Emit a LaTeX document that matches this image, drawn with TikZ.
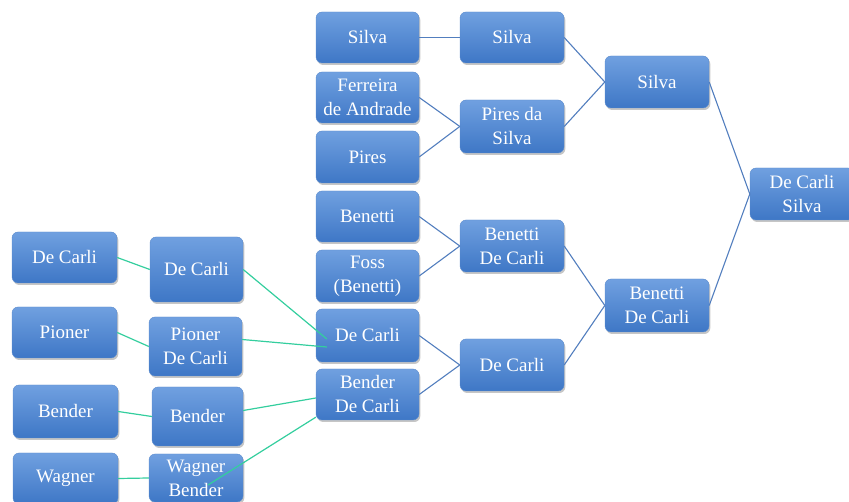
\documentclass[tikz,border=0pt]{standalone}
\usepackage{fontspec}
\setmainfont{Liberation Serif}
\usetikzlibrary{shadows}
\definecolor{boxtop}{RGB}{112,160,224}
\definecolor{boxbot}{RGB}{62,119,198}
\definecolor{boxedge}{RGB}{92,140,206}
\definecolor{linkblue}{RGB}{82,126,190}
\definecolor{linkgreen}{RGB}{52,206,158}
\begin{document}
\begin{tikzpicture}[x=1pt,y=-1pt,
  famb/.style={rectangle, rounded corners=6pt, top color=boxtop, bottom color=boxbot,
    draw=boxedge, line width=0.4pt, text=white, align=center,
    font=\fontsize{19}{24}\selectfont, inner sep=0pt,
    drop shadow={shadow xshift=1.3pt, shadow yshift=-2pt, opacity=0.45}},
  bl/.style={draw=linkblue, line width=1.1pt},
  gl/.style={draw=linkgreen, line width=1.2pt}]
\useasboundingbox (0,0) rectangle (849,502);
\clip (0,0) rectangle (849,502);
% column A
\node[famb, minimum width=105pt, minimum height=51pt] (a1) at (64.5,257.5) {De Carli};
\node[famb, minimum width=105pt, minimum height=51pt] (a2) at (64.5,332.5) {Pioner};
\node[famb, minimum width=105pt, minimum height=53pt] (a3) at (65.5,411.5) {Bender};
\node[famb, minimum width=105pt, minimum height=51pt] (a4) at (65.5,478.5) {Wagner};
% column B
\node[famb, minimum width=93pt, minimum height=65pt] (b1) at (196.5,269.5) {De Carli};
\node[famb, minimum width=93pt, minimum height=59pt] (b2) at (195.5,346.5) {Pioner\\De Carli};
\node[famb, minimum width=91pt, minimum height=59pt] (b3) at (197.5,416.5) {Bender};
\node[famb, minimum width=94pt, minimum height=48pt] (b4) at (196,478) {Wagner\\Bender};
% column C
\node[famb, minimum width=103pt, minimum height=51pt] (c1) at (367.5,37.5) {Silva};
\node[famb, minimum width=103pt, minimum height=51pt] (c2) at (367.5,97.5) {Ferreira\\de Andrade};
\node[famb, minimum width=103pt, minimum height=52pt] (c3) at (367.5,157) {Pires};
\node[famb, minimum width=103pt, minimum height=51pt] (c4) at (367.5,216.5) {Benetti};
\node[famb, minimum width=103pt, minimum height=52pt] (c5) at (367.5,276) {Foss\\(Benetti)};
\node[famb, minimum width=103pt, minimum height=53pt] (c6) at (367.5,335.5) {De Carli};
\node[famb, minimum width=103pt, minimum height=51pt] (c7) at (367.5,394.5) {Bender\\De Carli};
% column D
\node[famb, minimum width=104pt, minimum height=51pt] (d1) at (512,37.5) {Silva};
\node[famb, minimum width=104pt, minimum height=53pt] (d2) at (512,126.5) {Pires da\\Silva};
\node[famb, minimum width=104pt, minimum height=52pt] (d3) at (512,246) {Benetti\\De Carli};
\node[famb, minimum width=104pt, minimum height=52pt] (d4) at (512,365) {De Carli};
% column E
\node[famb, minimum width=104pt, minimum height=52pt] (e1) at (657,82) {Silva};
\node[famb, minimum width=104pt, minimum height=53pt] (e2) at (657,305.5) {Benetti\\De Carli};
% column F
\node[famb, minimum width=104pt, minimum height=52pt] (f1) at (802,194) {De Carli\\Silva};
% blue connectors
\draw[bl] (c1.east) -- (d1.west);
\draw[bl] (c2.east) -- (d2.west);
\draw[bl] (c3.east) -- (d2.west);
\draw[bl] (c4.east) -- (d3.west);
\draw[bl] (c5.east) -- (d3.west);
\draw[bl] (c6.east) -- (d4.west);
\draw[bl] (c7.east) -- (d4.west);
\draw[bl] (d1.east) -- (e1.west);
\draw[bl] (d2.east) -- (e1.west);
\draw[bl] (d3.east) -- (e2.west);
\draw[bl] (d4.east) -- (e2.west);
\draw[bl] (e1.east) -- (f1.west);
\draw[bl] (e2.east) -- (f1.west);
% green connectors
\draw[gl] (a1.east) -- (b1.west);
\draw[gl] (a2.east) -- (b2.west);
\draw[gl] (a3.east) -- (b3.west);
\draw[gl] (a4.east) -- (b4.west);
\draw[gl] (b1.east) -- ([shift={(11pt,-3.5pt)}]c6.west);
\draw[gl] ([yshift=7pt]b2.east) -- ([shift={(11pt,-11.5pt)}]c6.west);
\draw[gl] ([yshift=6pt]b3.east) -- ([yshift=-3.5pt]c7.west);
\draw[gl] ([shift={(12pt,-7pt)}]b4.center) -- ([yshift=3pt]c7.south west);
\end{tikzpicture}
\end{document}
